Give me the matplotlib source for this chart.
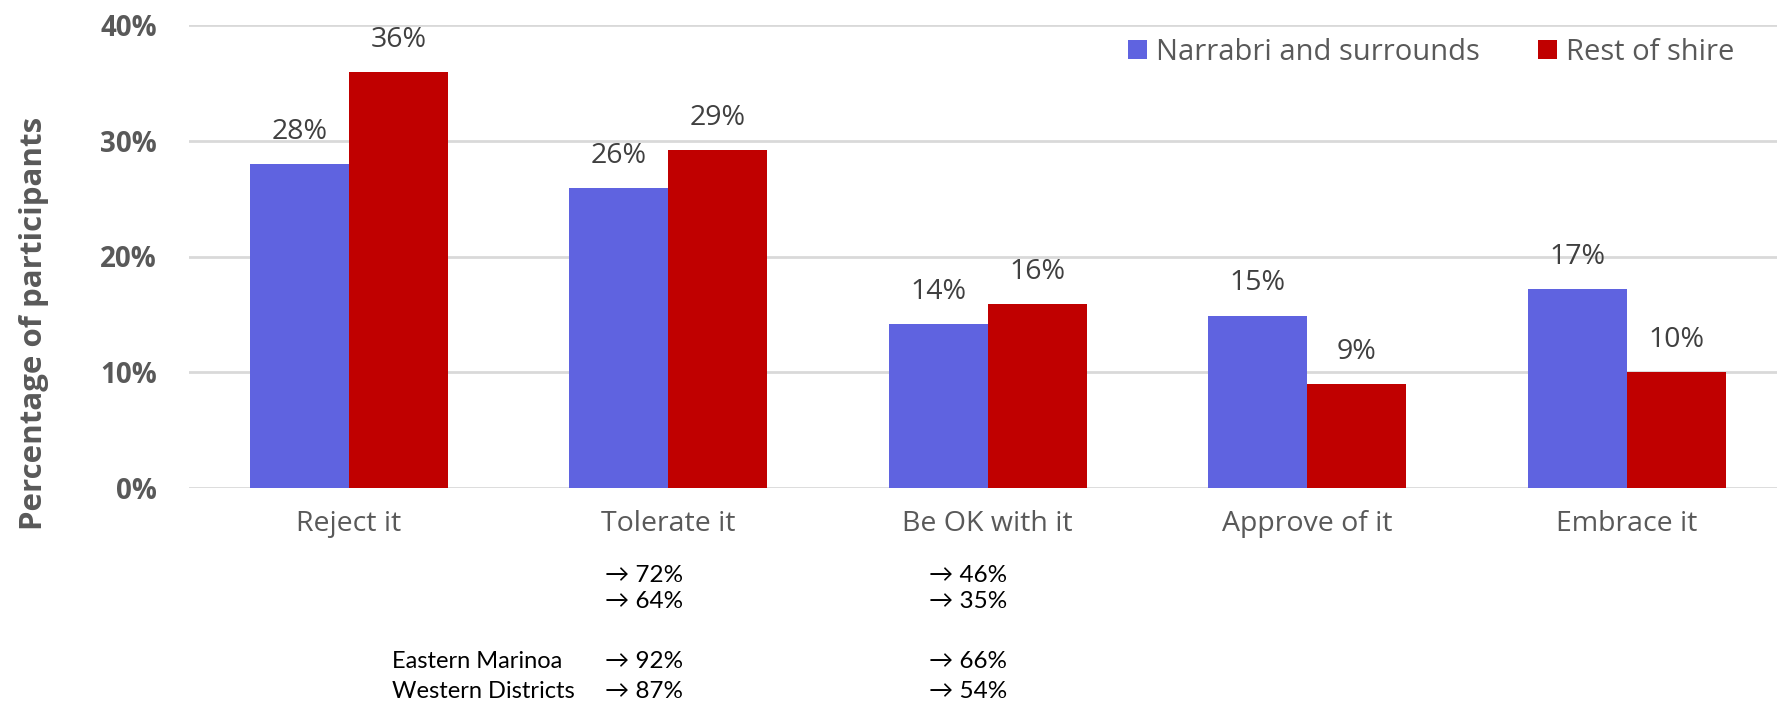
import matplotlib
matplotlib.use("Agg")
import matplotlib.pyplot as plt
import numpy as np

plt.rcParams['font.family'] = ['Open Sans', 'DejaVu Sans']

categories = ['Reject it', 'Tolerate it', 'Be OK with it', 'Approve of it', 'Embrace it']
narrabri = [28.0, 25.9, 14.2, 14.9, 17.2]
rest_of_shire = [35.9, 29.2, 15.9, 9.0, 10.0]
series_names = ['Narrabri and surrounds', 'Rest of shire']

# notes under the chart
note_rows = ['', '', 'Eastern Marinoa', 'Western Districts']
note_tolerate = ['72%', '64%', '92%', '87%']
note_ok = ['46%', '35%', '66%', '54%']

blue = '#5F63E0'
red = '#C00000'
grey = '#595959'

fig = plt.figure(figsize=(17.77, 7.07), dpi=100)
ax = fig.add_axes([189 / 1777, 1 - 488 / 707, 1 - 189 / 1777, (488 - 25) / 707])

x = np.arange(len(categories))
w = 0.31
b1 = ax.bar(x - w / 2, narrabri, w, color=blue, label=series_names[0], zorder=3)
b2 = ax.bar(x + w / 2, rest_of_shire, w, color=red, label=series_names[1], zorder=3)

for bars, vals in [(b1, narrabri), (b2, rest_of_shire)]:
    ax.bar_label(bars, labels=['%d%%' % round(v) for v in vals], padding=13,
                 fontsize=20.5, color='#404040')

ax.set_ylim(0, 40)
ax.set_xlim(-0.5, 4.47)
ax.set_yticks([0, 10, 20, 30, 40])
ax.set_yticklabels(['%d%%' % t for t in [0, 10, 20, 30, 40]], fontsize=20,
                   fontweight='bold', color=grey)
ax.set_xticks(x)
ax.set_xticklabels(categories, fontsize=20.5, color=grey)
ax.tick_params(axis='y', length=0, pad=23)
ax.tick_params(axis='x', length=0, pad=16)
ax.grid(axis='y', color='#D9D9D9', linewidth=2, zorder=0)
for s in ax.spines.values():
    s.set_visible(False)

fig.text(34 / 1777, 1 - 323 / 707, 'Percentage of participants', rotation=90,
         ha='center', va='center', fontsize=22.5, fontweight='bold', color=grey)

ax.legend(loc='center right', bbox_to_anchor=(1734 / 1777, 1 - 52 / 707),
          bbox_transform=fig.transFigure, ncol=2, frameon=False, fontsize=21,
          handlelength=0.65, handleheight=0.65, handletextpad=0.3,
          columnspacing=2.0, borderpad=0, borderaxespad=0, labelcolor=grey)

row_y = [575, 601, 662, 691]
for lab, t1, t2, yy in zip(note_rows, note_tolerate, note_ok, row_y):
    fy = 1 - yy / 707
    if lab:
        fig.text(392 / 1777, fy, lab, ha='left', va='center', fontsize=17,
                 family=['Lato', 'DejaVu Sans'])
    fig.text(605 / 1777, fy, '\u2192 ' + t1, ha='left', va='center', fontsize=17.5,
             family=['Lato', 'DejaVu Sans'])
    fig.text(929 / 1777, fy, '\u2192 ' + t2, ha='left', va='center', fontsize=17.5,
             family=['Lato', 'DejaVu Sans'])

fig.savefig('out.png', dpi=100)
